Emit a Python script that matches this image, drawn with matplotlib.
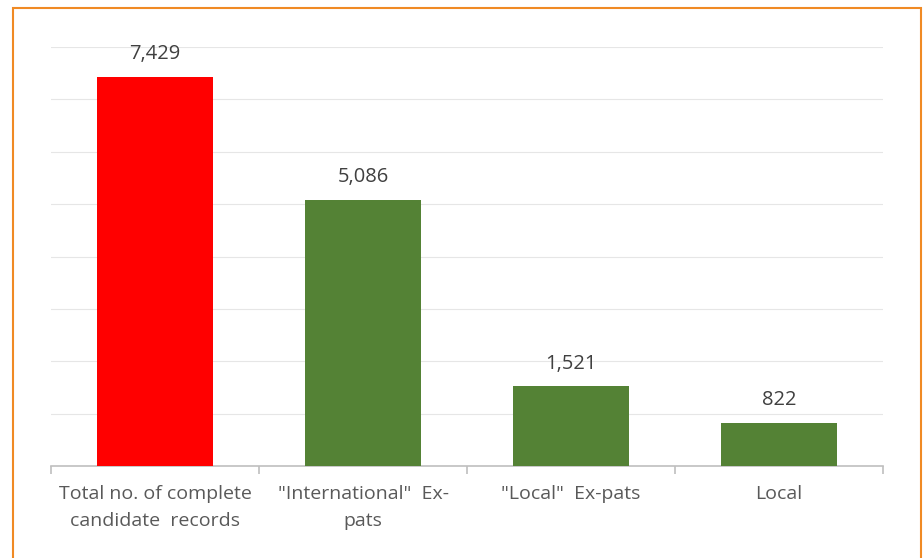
import numpy as np
import matplotlib.pyplot as plt
from matplotlib.patches import Rectangle

categories = ['Total no. of complete\ncandidate  records', '"International"  Ex-\npats',
              '"Local"  Ex-pats', 'Local']
values = [7429, 5086, 1521, 822]
bar_colors = ['#FF0000', '#548235', '#548235', '#548235']

plt.rcParams['font.family'] = ['Open Sans', 'DejaVu Sans']

fig = plt.figure(figsize=(9.23, 5.58), dpi=100)
ax = fig.add_axes([51/923, 92/558, 832/923, 419/558])

x = np.arange(len(values))
ax.bar(x, values, width=0.56, color=bar_colors, zorder=3)
for xi, v in zip(x, values):
    ax.annotate(f'{v:,}', (xi, v), xytext=(0, 9), textcoords='offset points',
                ha='center', va='bottom', fontsize=14.5, color='#404040')

ax.set_xlim(-0.5, 3.5)
ax.set_ylim(0, 8000)
ax.set_yticks(np.arange(0, 8001, 1000))
ax.yaxis.grid(True, color='#E6E6E6', linewidth=0.8, zorder=0)
ax.tick_params(axis='y', length=0, labelleft=False)

ax.set_xticks(x)
ax.set_xticklabels(categories, fontsize=14, color='#595959', linespacing=1.6)
ax.set_xticks(np.arange(-0.5, 3.6, 1), minor=True)
ax.tick_params(axis='x', which='major', length=0, pad=14)
ax.tick_params(axis='x', which='minor', length=6, width=1.2, color='#BFBFBF')

for s in ['top', 'right', 'left']:
    ax.spines[s].set_visible(False)
ax.spines['bottom'].set_color('#BFBFBF')
ax.spines['bottom'].set_linewidth(1.2)

fig.patches.append(Rectangle((13/923, -0.05), 908/923, 1.05 - 8/558, transform=fig.transFigure,
                             fill=False, edgecolor='#F08A24', linewidth=1.5, clip_on=False))

plt.savefig('out.png', dpi=100)
